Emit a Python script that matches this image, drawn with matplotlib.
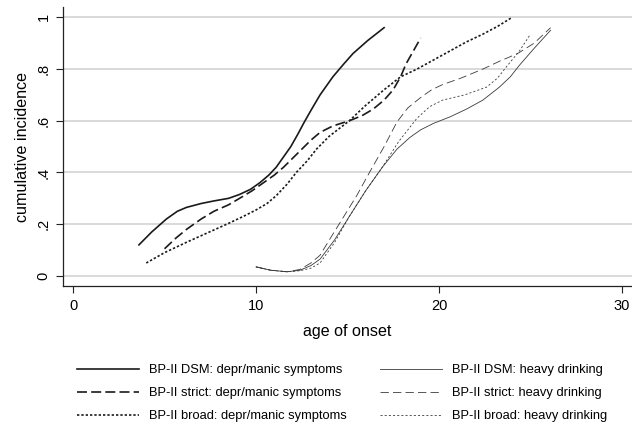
import numpy as np
import matplotlib
matplotlib.use('Agg')
import matplotlib.pyplot as plt

plt.rcParams['font.family'] = ['Liberation Sans', 'DejaVu Sans']

#-- values (age of onset, cumulative incidence)
dsm_depr_x   = [3.6, 4.3, 5.1, 5.7, 6.2, 7.0, 7.7, 8.5, 9.1, 9.7, 10.2, 10.7, 11.1, 11.5, 11.9, 12.3, 12.6, 13.0, 13.5, 14.2, 14.8, 15.3, 16.1, 17.0]
dsm_depr_y   = [0.12, 0.17, 0.22, 0.25, 0.265, 0.28, 0.29, 0.30, 0.315, 0.335, 0.36, 0.39, 0.42, 0.46, 0.50, 0.55, 0.59, 0.64, 0.70, 0.77, 0.82, 0.86, 0.91, 0.96]

str_depr_x   = [5.0, 5.6, 6.2, 7.0, 7.7, 8.5, 9.1, 9.8, 10.4, 11.0, 11.5, 12.0, 12.5, 13.0, 13.5, 14.2, 15.1, 15.8, 16.4, 17.0, 17.5, 17.9, 18.2, 18.6, 19.0]
str_depr_y   = [0.105, 0.145, 0.18, 0.22, 0.25, 0.275, 0.30, 0.33, 0.36, 0.39, 0.42, 0.455, 0.49, 0.525, 0.555, 0.58, 0.60, 0.62, 0.645, 0.68, 0.72, 0.77, 0.82, 0.87, 0.92]

brd_depr_x   = [4.0, 5.0, 6.2, 7.3, 8.4, 9.3, 10.0, 10.6, 11.1, 11.7, 12.2, 12.8, 13.3, 14.0, 15.1, 16.0, 17.0, 17.9, 18.8, 19.7, 20.6, 21.5, 22.4, 23.2, 24.0]
brd_depr_y   = [0.05, 0.09, 0.13, 0.165, 0.20, 0.23, 0.255, 0.28, 0.31, 0.355, 0.40, 0.445, 0.49, 0.54, 0.60, 0.66, 0.72, 0.77, 0.80, 0.835, 0.87, 0.905, 0.935, 0.965, 1.0]

dsm_drink_x  = [10.0, 10.8, 11.7, 12.4, 13.0, 13.5, 14.3, 15.1, 16.0, 16.9, 17.7, 18.4, 19.0, 19.7, 20.6, 21.5, 22.4, 23.3, 23.9, 24.4, 25.2, 26.1]
dsm_drink_y  = [0.035, 0.022, 0.016, 0.022, 0.04, 0.065, 0.14, 0.23, 0.33, 0.42, 0.49, 0.535, 0.565, 0.59, 0.615, 0.645, 0.68, 0.73, 0.77, 0.815, 0.88, 0.95]

str_drink_x  = [10.0, 10.8, 11.7, 12.4, 13.0, 13.5, 14.1, 14.8, 15.5, 16.2, 17.0, 17.7, 18.3, 19.0, 19.6, 20.2, 21.2, 22.4, 23.3, 24.3, 25.2, 26.1]
str_drink_y  = [0.035, 0.022, 0.016, 0.025, 0.05, 0.08, 0.15, 0.23, 0.31, 0.40, 0.50, 0.595, 0.65, 0.69, 0.72, 0.74, 0.765, 0.80, 0.83, 0.86, 0.90, 0.96]

brd_drink_x  = [10.0, 10.8, 11.7, 12.4, 13.0, 13.5, 14.3, 15.1, 16.0, 16.9, 17.8, 18.8, 19.5, 20.2, 21.4, 22.6, 23.2, 23.7, 24.4, 25.0]
brd_drink_y  = [0.035, 0.022, 0.016, 0.02, 0.03, 0.05, 0.13, 0.23, 0.33, 0.42, 0.52, 0.61, 0.655, 0.68, 0.70, 0.73, 0.765, 0.81, 0.87, 0.935]

labels = ['BP-II DSM: depr/manic symptoms', 'BP-II strict: depr/manic symptoms',
          'BP-II broad: depr/manic symptoms', 'BP-II DSM: heavy drinking',
          'BP-II strict: heavy drinking', 'BP-II broad: heavy drinking']
x_ticks = [0, 10, 20, 30]
y_ticks = [0, 0.2, 0.4, 0.6, 0.8, 1.0]
y_ticklabels = ['0', '.2', '.4', '.6', '.8', '1']

#-- figure
fig = plt.figure(figsize=(6.32, 4.28), dpi=100)
ax = fig.add_axes([63/632, 142/428, 569/632, 279/428])

thick = 1.2
thin = 0.6
ax.plot(dsm_depr_x, dsm_depr_y, color='#1a1a1a', lw=thick, ls='-', label=labels[0])
ax.plot(str_depr_x, str_depr_y, color='#1a1a1a', lw=thick, ls=(0, (6, 2.5)), label=labels[1])
ax.plot(brd_depr_x, brd_depr_y, color='#1a1a1a', lw=thick, ls=(0, (1.4, 1.2)), label=labels[2])
ax.plot(dsm_drink_x, dsm_drink_y, color='#3a3a3a', lw=thin, ls='-', label=labels[3])
ax.plot(str_drink_x, str_drink_y, color='#3a3a3a', lw=thin, ls=(0, (10, 5)), label=labels[4])
ax.plot(brd_drink_x, brd_drink_y, color='#3a3a3a', lw=thin, ls=(0, (2.5, 2.5)), label=labels[5])

ax.set_xlim(-0.55, 30.55)
ax.set_ylim(-0.039, 1.04)
ax.set_xticks(x_ticks)
ax.set_yticks(y_ticks)
ax.set_yticklabels(y_ticklabels, rotation=90, va='center')
ax.tick_params(axis='both', labelsize=10.5, length=5, width=0.8, color='#222222', pad=4)
ax.grid(axis='y', color='#d9d9d9', lw=1.4)
ax.set_axisbelow(True)
for s in ['top', 'right']:
    ax.spines[s].set_visible(False)
for s in ['left', 'bottom']:
    ax.spines[s].set_linewidth(0.9)
    ax.spines[s].set_color('#222222')

ax.set_xlabel('age of onset', fontsize=11.6, labelpad=8)
ax.set_ylabel('cumulative incidence', fontsize=11.6, labelpad=5)

fig.legend(loc='upper left', bbox_to_anchor=(77/632, 1 - 364/428), ncol=2,
           frameon=False, fontsize=9.3, handlelength=4.8, handletextpad=0.78,
           columnspacing=2.6, labelspacing=0.86, borderpad=0, borderaxespad=0)

fig.savefig('out.png', dpi=100)
